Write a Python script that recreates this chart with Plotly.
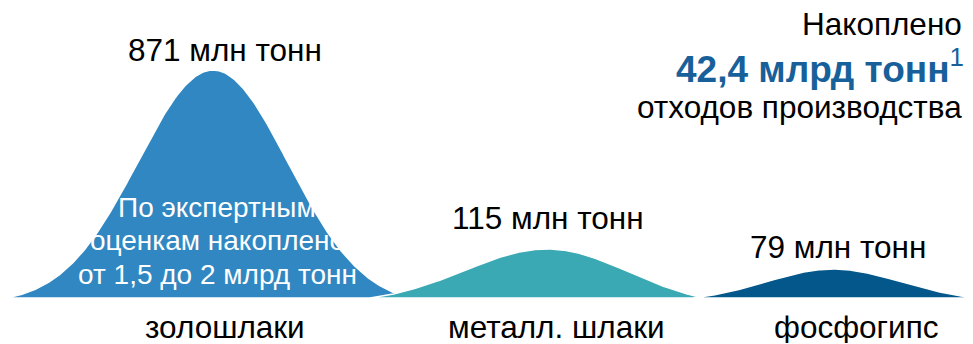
import numpy as np
import plotly.graph_objects as go

# ---- data ----
categories = ["золошлаки", "металл. шлаки", "фосфогипс"]
volumes_mln_t = [871, 115, 79]
value_labels = ["871 млн тонн", "115 млн тонн", "79 млн тонн"]
peak_heights = [228, 49, 29]          # drawn height of each bell (chart units)
total_label = ["Накоплено", "42,4 млрд тонн", "отходов производства"]
note_lines = ["По экспертным", "оценкам накоплено", "от 1,5 до 2 млрд тонн"]

# ---- geometry / style ----
W, H = 973, 344
BASE_PX = 298
centers = [213, 547, 833]
extent = [(206, 197), (177, 156), (140, 145)]   # left / right reach of each bell
sigma = [75, 82, 67]
colors = ["#3187C1", "#3AA9B3", "#03578B"]
FONT = "Liberation Sans, Arial, sans-serif"
FS = 31.5

def py(p):
    """pixel row -> data y (height above baseline)"""
    return BASE_PX - p

fig = go.Figure()
for i, cat in enumerate(categories):
    c, (l, r), s, h = centers[i], extent[i], sigma[i], peak_heights[i]
    xs = np.linspace(c - l, c + r, 300)
    d = xs - c
    edge = np.where(d < 0, l, r)
    e0 = np.exp(-edge**2 / (2 * s**2))
    ys = h * (np.exp(-d**2 / (2 * s**2)) - e0) / (1 - e0)
    ys = np.clip(ys, 0, None)
    xx = np.concatenate([xs, xs[::-1]])
    yy = np.concatenate([ys, np.zeros_like(ys)])
    fig.add_trace(go.Scatter(
        x=xx, y=yy, fill="toself", fillcolor=colors[i], mode="lines",
        line=dict(color="white", width=1.5), hoverinfo="skip", showlegend=False,
        name=cat))

ann = []
label_px = [50, 218, 247]
label_x = [225, 548, 838]
for i in range(3):
    ann.append(dict(x=label_x[i], y=py(label_px[i]),
                    text=value_labels[i], showarrow=False,
                    font=dict(size=FS, color="black", family=FONT),
                    xanchor="center", yanchor="middle"))
cat_x = [225, 556, 856]
for i in range(3):
    ann.append(dict(x=cat_x[i], y=py(327), text=categories[i], showarrow=False,
                    font=dict(size=FS, color="black", family=FONT),
                    height=32, xanchor="center", yanchor="middle"))
# note inside first bell
for k, line in enumerate(note_lines):
    ann.append(dict(x=217, y=py(207 + 33.5 * k), text=line, showarrow=False,
                    font=dict(size=28, color="white", family=FONT),
                    xanchor="center", yanchor="middle"))
# top-right total
ann.append(dict(x=964, y=py(24), text=total_label[0], showarrow=False,
                font=dict(size=FS, color="black", family=FONT),
                xanchor="right", yanchor="middle"))
ann.append(dict(x=966, y=py(66),
                text="<b>" + total_label[1] + "</b><sup>1</sup>", showarrow=False,
                font=dict(size=37, color="#17609A", family=FONT),
                xanchor="right", yanchor="middle"))
ann.append(dict(x=964, y=py(107), text=total_label[2], showarrow=False,
                font=dict(size=FS, color="black", family=FONT),
                xanchor="right", yanchor="middle"))

fig.update_layout(
    width=W, height=H, margin=dict(l=0, r=0, t=0, b=0),
    paper_bgcolor="white", plot_bgcolor="white",
    xaxis=dict(range=[0, W], visible=False, fixedrange=True),
    yaxis=dict(range=[BASE_PX - H, BASE_PX], visible=False, fixedrange=True),
    annotations=ann, showlegend=False,
)
fig.write_html("out.html", config={"displayModeBar": False})
